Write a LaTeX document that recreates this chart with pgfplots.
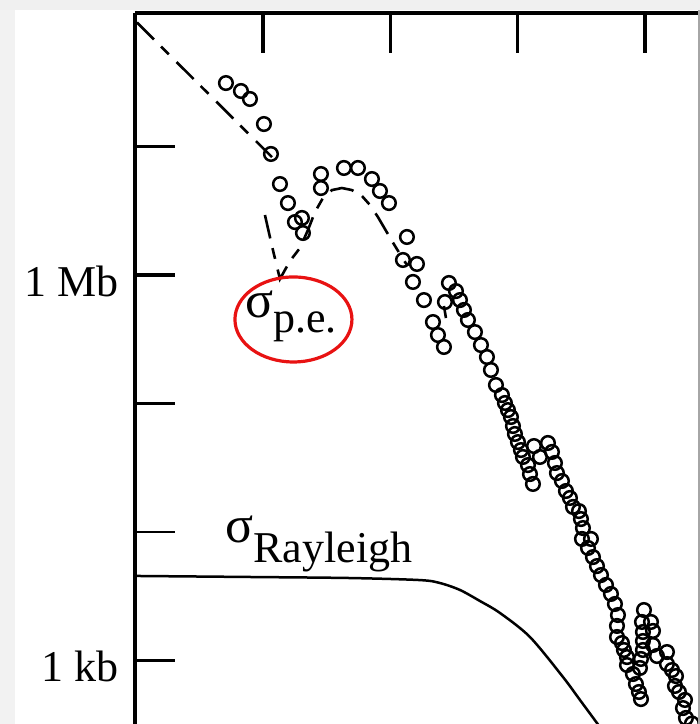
\documentclass[border=0pt]{standalone}
\usepackage{pgfplots}
\pgfplotsset{compat=1.18}
\usepackage{fontspec}
\setmainfont{Liberation Serif}
\definecolor{ered}{RGB}{232,18,18}
\pgfplotstableread{
X Y
0.7092 7.494
0.8270 7.432
0.8977 7.370
1.0076 7.175
1.0626 6.942
1.1333 6.708
1.1961 6.560
1.2511 6.412
1.3060 6.444
1.3139 6.327
1.4553 6.786
1.4553 6.677
1.6359 6.833
1.7459 6.833
1.8558 6.747
1.9186 6.654
1.9893 6.560
2.1307 6.296
2.0993 6.117
2.2092 6.086
2.1778 5.946
2.2642 5.805
2.3349 5.634
2.3741 5.533
2.4213 5.440
2.4605 5.938
2.4291 5.790
2.5155 5.875
2.5469 5.805
2.5783 5.728
2.6097 5.650
2.6647 5.556
2.7118 5.455
2.7590 5.362
2.7904 5.261
2.8297 5.144
2.8768 5.066
2.9003 5.004
2.9239 4.949
2.9475 4.895
2.9632 4.825
2.9789 4.763
3.0024 4.700
3.0260 4.638
3.0417 4.584
3.0810 4.521
3.0967 4.451
3.1202 4.374
3.1281 4.669
3.1752 4.584
3.2380 4.693
3.2695 4.623
3.2930 4.537
3.3087 4.459
3.3480 4.397
3.3794 4.319
3.4108 4.265
3.4344 4.195
3.4815 4.163
3.4972 4.101
3.5129 4.031
3.5051 3.946
3.5757 3.946
3.5522 3.876
3.5915 3.805
3.6229 3.735
3.6543 3.665
3.6936 3.588
3.7328 3.518
3.7642 3.440
3.7878 3.354
3.7800 3.269
3.7800 3.183
3.8192 3.136
3.8349 3.082
3.8585 3.027
3.8585 2.965
3.9056 2.895
3.9291 2.817
3.9527 2.755
3.9684 2.700
3.9920 3.393
3.9763 3.300
3.9841 3.222
3.9841 3.152
3.9841 3.082
3.9684 3.012
3.9605 2.942
4.0470 3.300
4.0627 3.230
4.0627 3.121
4.0941 3.035
4.1726 3.066
4.1726 2.973
4.2119 2.926
4.2433 2.879
4.2355 2.802
4.2669 2.755
4.3140 2.693
4.2983 2.630
4.3218 2.553
4.3689 2.510
}\datapts
\begin{document}
\begin{tikzpicture}
\useasboundingbox (0,0) rectangle (350pt,362pt);
\fill[black!5] (0,0) rectangle (7.5pt,362pt);
\fill[black!6] (0,357pt) rectangle (350pt,362pt);
\begin{axis}[
  at={(67.5pt,0pt)}, anchor=south west,
  scale only axis, width=282.5pt, height=355.5pt,
  xmin=-0.005, xmax=4.432, ymin=2.506, ymax=8.039,
  axis x line*=top, axis y line*=left,
  axis line style={line width=2pt,-},
  xtick={1,2,3,4}, xticklabels={},
  ytick={3,5,6,7}, yticklabels={1 kb,,1 Mb,},
  extra y ticks={4}, extra y tick labels={},
  extra y tick style={major tick style={line width=1pt,black}},
  tick align=inside,
  major tick length=20pt,
  major tick style={line width=1.8pt, black},
  minor tick num=0,
  yticklabel style={font=\fontsize{22}{26}\selectfont, inner sep=0pt, xshift=-8pt, yshift=-3pt},
  clip=true,
]
% photoelectric theory (dashed)
\addplot[line width=1.3pt, dash pattern=on 12pt off 5pt on 5.5pt off 5.5pt] coordinates {
 (0.0102,7.965) (1.0705,6.918)
};
\addplot[line width=1.3pt, dash pattern=on 12pt off 5pt on 5.5pt off 5.5pt] coordinates {
 (1.0155,6.467) (1.0705,6.226) (1.1333,5.969) (1.2118,6.109) (1.2904,6.210)
 (1.3532,6.350) (1.4082,6.490) (1.4710,6.599) (1.5417,6.661) (1.6202,6.677)
 (1.6987,6.661) (1.7773,6.615) (1.8401,6.545) (1.9029,6.451) (1.9579,6.358)
 (2.0129,6.265) (2.0757,6.163) (2.1307,6.078)
};
\addplot[line width=1.3pt] coordinates {(2.4213,5.759) (2.4370,5.665)};
% Rayleigh
\addplot[line width=1.25pt, smooth] coordinates {
 (0.0102,3.658) (0.8977,3.650) (1.6830,3.642) (2.2328,3.626) (2.3899,3.603)
 (2.5469,3.549) (2.7040,3.463) (2.8611,3.370) (3.0967,3.183) (3.3558,2.872)
 (3.4894,2.693) (3.6464,2.482)
};
% measured points
\addplot[only marks, mark=o, mark size=3.4pt, line width=1.25pt] table {\datapts};
\node[anchor=base west, inner sep=0pt, font=\fontsize{26}{30}\selectfont] at (axis cs:0.8584,5.673) {σ\raisebox{-7.5pt}{\fontsize{22}{26}\selectfont p.e.}};
\node[anchor=base west, inner sep=0pt, font=\fontsize{26}{30}\selectfont] at (axis cs:0.7013,3.922) {σ\raisebox{-10pt}{\fontsize{22}{26}\selectfont Rayleigh}};
\draw[ered, line width=1.6pt] (axis cs:1.2393,5.654) ellipse [x radius=29.25pt, y radius=21.25pt];
\end{axis}
\draw[black!35, line width=0.8pt] (349.6pt,0) -- (349.6pt,357pt);
\end{tikzpicture}
\end{document}
